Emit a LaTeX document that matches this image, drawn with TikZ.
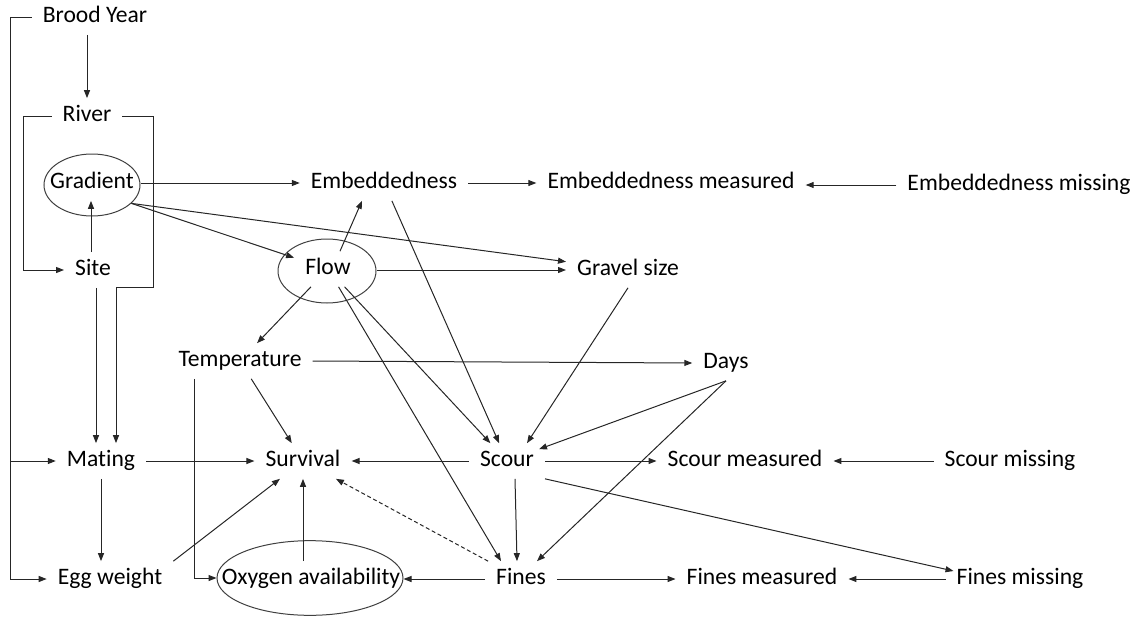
\documentclass[tikz,border=0pt]{standalone}
\usepackage{fontspec}
\setmainfont{Carlito}[Ligatures={NoCommon}]
\usetikzlibrary{arrows.meta,calc,shapes.geometric}
\begin{document}
\begin{tikzpicture}[x=0.75pt,y=-0.75pt,
  line width=0.75pt, color=black!85,
  lbl/.style={text=black,inner xsep=8pt,inner ysep=5pt,text height=12pt,text depth=4pt,font=\fontsize{17.7}{20}\selectfont},
  oval/.style={draw=black!75,ellipse,inner sep=0pt},
  arr/.style={-{Triangle[length=6pt,width=4.5pt]}},
  dsh/.style={dash pattern=on 3pt off 2pt}]
\useasboundingbox (0,0) rectangle (1142,621);
% nodes
\node[lbl] (brood) at (95,17) {Brood Year};
\node[lbl] (river) at (87,116) {River};
\node[oval,minimum width=72pt,minimum height=46.5pt] (gradE) at (92,185) {};
\node[lbl] (grad) at (92,183) {Gradient};
\node[lbl] (site) at (93,270) {Site};
\node[lbl] (mating) at (101,461) {Mating};
\node[lbl] (egg) at (110,579) {Egg weight};
\node[lbl] (emb) at (384,183) {Embeddedness};
\node[lbl] (embm) at (671,183) {Embeddedness measured};
\node[lbl] (embx) at (1019,185) {Embeddedness missing};
\node[oval,minimum width=73.5pt,minimum height=48pt] (flowE) at (327,271) {};
\node[lbl] (flow) at (328,269) {Flow};
\node[lbl] (gravel) at (628,270) {Gravel size};
\node[lbl] (temp) at (240,361) {Temperature};
\node[lbl] (days) at (726,363) {Days};
\node[lbl] (surv) at (303,461) {Survival};
\node[lbl] (scour) at (507,461) {Scour};
\node[lbl] (scourm) at (745,461) {Scour measured};
\node[lbl] (scourx) at (1010,461) {Scour missing};
\node[oval,minimum width=139.5pt,minimum height=56pt] (oxyE) at (310,578) {};
\node[lbl] (oxy) at (311,579) {Oxygen availability};
\node[lbl] (fines) at (521,579) {Fines};
\node[lbl] (finesm) at (762,579) {Fines measured};
\node[lbl] (finesx) at (1020,579) {Fines missing};
% helper coordinates
\coordinate (bx) at (10,16);
\coordinate (rl) at (23,115);
\coordinate (rr) at (153,287);
\coordinate (m1) at (96,297);
\coordinate (m2) at (116,287);
\coordinate (g1) at (91,245);
\coordinate (t1) at (194,375);
% brackets
\draw[arr] (brood.south -| river) -- (river.north);
\draw[arr] (brood.west) -| (bx |- mating) -- (mating.west);
\draw[arr] (bx |- mating) |- (egg.west);
\draw[arr] (river.west) -| (rl |- site) -- (site.west);
\draw[arr] (river.east) -| (rr) -| (mating.north -| m2);
\draw[arr] (site.south -| m1) -- (mating.north -| m1);
\draw[arr] (site.north -| g1) -- (grad.south -| g1);
% gradient
\draw[arr] (gradE.east |- emb.west) -- (emb.west);
\draw[arr] (gradE.-25) -- (flow);
\draw[arr] (gradE.-25) -- (gravel);
% flow
\draw[arr] ($(flow.north)+(12,0)$) -- ($(emb.south)+(-22,0)$);
\draw[arr] (flowE.east |- gravel) -- (gravel.west);
\draw[arr] (flow) -- (temp);
\draw[arr] (flow) -- (scour);
\draw[arr] (flow) -- ($(fines.north)+(-20,0)$);
% embeddedness
\draw[arr] (emb.east) -- (embm.west);
\draw[arr] (embx.west) -- (embm.east |- embx.west);
\draw[arr] (emb) -- (scour);
\draw[arr] (gravel.south) -- ($(scour.north)+(20,0)$);
% temperature, days
\draw[arr] (temp.east) -- (days.west);
\draw[arr] (temp) -- (surv);
\draw[arr] (temp.south -| t1) |- (oxyE.west);
\draw[arr] (days.south) -- ($(scour.north east)+(-6,6)$);
\draw[arr] (days.south) -- ($(fines.north)+(16,0)$);
% scour
\draw[arr] (scour.west) -- (surv.east);
\draw[arr] (scour.east) -- (scourm.west);
\draw[arr] (scourx.west) -- (scourm.east);
\draw[arr] ($(scour.south)+(8,0)$) -- ($(fines.north)+(-4,0)$);
\draw[arr] (scour.south east) -- ($(finesx.west)+(8,-8)$);
% fines
\draw[arr] (fines.west) -- (fines.west -| oxyE.east);
\draw[arr,dsh] (fines) -- (surv);
\draw[arr] (fines.east) -- (finesm.west);
\draw[arr] (finesx.west) -- (finesm.east);
% mating, egg, oxygen
\draw[arr] (mating.east) -- (surv.west);
\draw[arr] (mating.south) -- (mating.south |- egg.north);
\draw[arr] (egg.north east) -- (surv);
\draw[arr] (oxy.north -| surv) -- (surv.south);
\end{tikzpicture}
\end{document}
